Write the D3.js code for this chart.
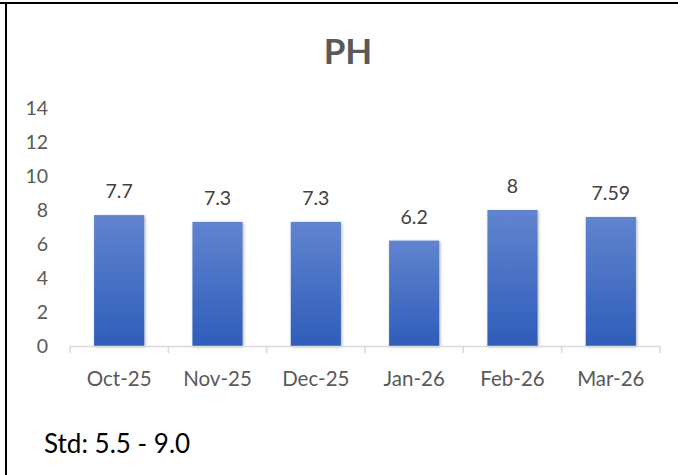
<!DOCTYPE html>
<html>
<head>
<meta charset="utf-8">
<script src="https://cdn.jsdelivr.net/npm/d3@7"></script>
<style>
  html, body { margin: 0; padding: 0; background: #fff; }
  svg { display: block; font-family: Lato, "Open Sans", sans-serif; }
</style>
</head>
<body>
<div id="chart"></div>
<script>
const months = ['Oct-25', 'Nov-25', 'Dec-25', 'Jan-26', 'Feb-26', 'Mar-26'];
const phValues = [7.7, 7.3, 7.3, 6.2, 8, 7.59];
const valueLabels = ['7.7', '7.3', '7.3', '6.2', '8', '7.59'];
const yTicks = [0, 2, 4, 6, 8, 10, 12, 14];
const title = 'PH';
const note = 'Std: 5.5 - 9.0';

const canvasWidth = 678;
const canvasHeight = 475;
const margins = { top: 108, right: 18, bottom: 129, left: 70 };
const width = canvasWidth - margins.left - margins.right;
const height = canvasHeight - margins.top - margins.bottom;

const svg = d3.select('#chart')
  .append('svg')
    .attr('width', canvasWidth)
    .attr('height', canvasHeight);

// gradient for the bars
const grad = svg.append('defs')
  .append('linearGradient')
    .attr('id', 'barFill')
    .attr('x1', 0).attr('y1', 0)
    .attr('x2', 0).attr('y2', 1);
grad.append('stop').attr('offset', '0%').attr('stop-color', '#6184cf');
grad.append('stop').attr('offset', '100%').attr('stop-color', '#2e5dba');

svg.select('defs').append('filter')
    .attr('id', 'shadow')
    .attr('x', '-20%').attr('y', '-10%')
    .attr('width', '140%').attr('height', '120%')
  .append('feDropShadow')
    .attr('dx', 1).attr('dy', 1)
    .attr('stdDeviation', 1.5)
    .attr('flood-color', '#000')
    .attr('flood-opacity', 0.3);

// frame
svg.append('line')
  .attr('x1', 0).attr('x2', canvasWidth)
  .attr('y1', 3).attr('y2', 3)
  .attr('stroke', '#000').attr('stroke-width', 2);
svg.append('line')
  .attr('x1', 6).attr('x2', 6)
  .attr('y1', 3).attr('y2', canvasHeight)
  .attr('stroke', '#000').attr('stroke-width', 2);

// title
svg.append('text')
  .attr('x', 348)
  .attr('y', 64)
  .attr('text-anchor', 'middle')
  .attr('font-size', 35)
  .attr('font-weight', 'bold')
  .attr('fill', '#595959')
  .text(title);

const graph = svg.append('g')
  .attr('transform', `translate(${margins.left}, ${margins.top})`);

const scaleX = d3.scaleBand()
  .domain(months)
  .range([0, width])
  .paddingInner(0.49)
  .paddingOuter(0.245);

const scaleY = d3.scaleLinear()
  .domain([0, 14])
  .range([height, 0]);

// y axis labels (no line)
const axisY = d3.axisLeft(scaleY)
  .tickValues(yTicks)
  .tickSize(0)
  .tickPadding(22);
graph.append('g')
  .call(axisY)
  .call(g => g.select('.domain').remove())
  .call(g => g.selectAll('text')
    .attr('font-family', 'Lato, sans-serif')
    .attr('font-size', 19.5)
    .attr('fill', '#595959'));

// bars
graph.append('g')
  .selectAll('rect')
  .data(phValues)
  .enter()
  .append('rect')
    .attr('x', (d, i) => scaleX(months[i]))
    .attr('y', d => scaleY(d))
    .attr('width', scaleX.bandwidth())
    .attr('height', d => height - scaleY(d))
    .attr('fill', 'url(#barFill)')
    .attr('filter', 'url(#shadow)');

// value labels
graph.append('g')
  .selectAll('text')
  .data(phValues)
  .enter()
  .append('text')
    .attr('x', (d, i) => scaleX(months[i]) + scaleX.bandwidth() / 2)
    .attr('y', d => scaleY(d) - 17)
    .attr('text-anchor', 'middle')
    .attr('font-size', 19.5)
    .attr('fill', '#404040')
    .text((d, i) => valueLabels[i]);

// x axis
const boundaries = d3.range(months.length + 1).map(i => i * scaleX.step());
const xAxis = graph.append('g')
  .attr('transform', `translate(0, ${height})`);
xAxis.append('line')
  .attr('x1', 0).attr('x2', width)
  .attr('y1', 0.5).attr('y2', 0.5)
  .attr('stroke', '#d9d9d9').attr('stroke-width', 1.5);
xAxis.selectAll('.tick')
  .data(boundaries)
  .enter()
  .append('line')
    .attr('x1', d => d).attr('x2', d => d)
    .attr('y1', 0).attr('y2', 7)
    .attr('stroke', '#d9d9d9').attr('stroke-width', 1.5);
xAxis.selectAll('.cat')
  .data(months)
  .enter()
  .append('text')
    .attr('x', d => scaleX(d) + scaleX.bandwidth() / 2)
    .attr('y', 40)
    .attr('text-anchor', 'middle')
    .attr('font-size', 20.5)
    .attr('fill', '#595959')
    .text(d => d);

// standard note
svg.append('text')
  .attr('x', 44)
  .attr('y', 453)
  .attr('font-size', 26)
  .attr('fill', '#000')
  .text(note);
</script>
</body>
</html>
